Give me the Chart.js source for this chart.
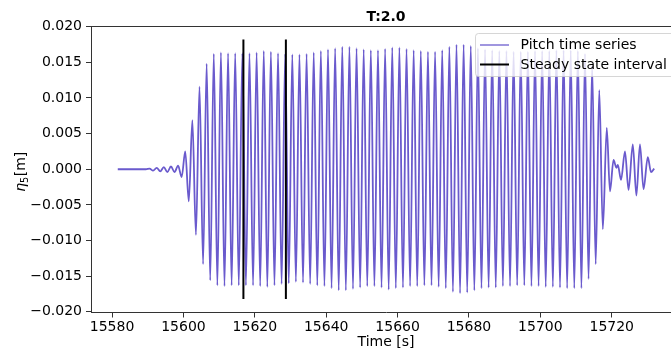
<!DOCTYPE html>
<html>
<head>
<meta charset="utf-8">
<script src="https://cdn.jsdelivr.net/npm/chart.js@4.4.0/dist/chart.umd.min.js"></script>
<style>
html, body { margin: 0; padding: 0; overflow: hidden; background: #fff; }
#wrap { width: 671px; height: 349px; overflow: hidden; }
canvas { display: block; }
</style>
</head>
<body>
<div id="wrap"><canvas id="c" width="700" height="349"></canvas></div>
<script>
// peaks / troughs of the pitch signal
var pitchTime = [
  15581.6, 15589.5, 15590.5, 15591.5, 15592.5, 15593.5, 15594.5, 15595.5, 15596.5, 15597.5, 15598.5, 15599.5,
  15600.5, 15601.5, 15602.5, 15603.5, 15604.5, 15605.5, 15606.5, 15607.5, 15608.5, 15609.5,
  15610.5, 15611.5, 15612.5, 15613.5, 15614.5, 15615.5, 15616.5, 15617.5, 15618.5, 15619.5,
  15620.5, 15621.5, 15622.5, 15623.5, 15624.5, 15625.5, 15626.5, 15627.5, 15628.5, 15629.5,
  15630.5, 15631.5, 15632.5, 15633.5, 15634.5, 15635.5, 15636.5, 15637.5, 15638.5, 15639.5,
  15640.5, 15641.5, 15642.5, 15643.5, 15644.5, 15645.5, 15646.5, 15647.5, 15648.5, 15649.5,
  15650.5, 15651.5, 15652.5, 15653.5, 15654.5, 15655.5, 15656.5, 15657.5, 15658.5, 15659.5,
  15660.5, 15661.5, 15662.5, 15663.5, 15664.5, 15665.5, 15666.5, 15667.5, 15668.5, 15669.5,
  15670.5, 15671.5, 15672.5, 15673.5, 15674.5, 15675.5, 15676.5, 15677.5, 15678.5, 15679.5,
  15680.5, 15681.5, 15682.5, 15683.5, 15684.5, 15685.5, 15686.5, 15687.5, 15688.5, 15689.5,
  15690.5, 15691.5, 15692.5, 15693.5, 15694.5, 15695.5, 15696.5, 15697.5, 15698.5, 15699.5,
  15700.5, 15701.5, 15702.5, 15703.5, 15704.5, 15705.5, 15706.5, 15707.5, 15708.5, 15709.5,
  15710.5, 15711.5, 15712.5, 15713.5, 15714.5, 15715.5, 15716.5, 15717.5,
  15718.6, 15719.5, 15720.5, 15721.3, 15721.7, 15722.6, 15723.7, 15724.7, 15725.9, 15726.9,
  15727.9, 15728.9, 15730.1, 15731.0, 15731.9
];
var pitchValue = [
  0, 0, 0.0001, -0.0002, 0.0002, -0.0003, 0.0003, -0.0004, 0.0004, -0.0004, 0.0005, -0.0011,
  0.0025, -0.0045, 0.0069, -0.0092, 0.0116, -0.0133, 0.0148, -0.0156, 0.0162, -0.0163,
  0.0164, -0.0164, 0.0163, -0.0163, 0.0163, -0.0163, 0.0163, -0.0163, 0.0163, -0.0163,
  0.0164, -0.0164, 0.0166, -0.0165, 0.0165, -0.0163, 0.0163, -0.0161, 0.0162, -0.0160,
  0.0161, -0.0158, 0.0161, -0.0159, 0.0162, -0.0161, 0.0164, -0.0163, 0.0166, -0.0164,
  0.0168, -0.0167, 0.0170, -0.0170, 0.0172, -0.0170, 0.0172, -0.0168, 0.0170, -0.0166,
  0.0168, -0.0164, 0.0167, -0.0164, 0.0167, -0.0166, 0.0169, -0.0169, 0.0171, -0.0167,
  0.0171, -0.0166, 0.0169, -0.0164, 0.0167, -0.0164, 0.0166, -0.0163, 0.0165, -0.0163,
  0.0165, -0.0165, 0.0167, -0.0167, 0.0172, -0.0172, 0.0175, -0.0174, 0.0175, -0.0173,
  0.0173, -0.0170, 0.0170, -0.0167, 0.0168, -0.0166, 0.0167, -0.0166, 0.0166, -0.0164,
  0.0166, -0.0164, 0.0165, -0.0163, 0.0165, -0.0163, 0.0165, -0.0164, 0.0166, -0.0164,
  0.0166, -0.0165, 0.0166, -0.0165, 0.0167, -0.0166, 0.0167, -0.0167, 0.0167, -0.0167,
  0.0166, -0.0167, 0.0162, -0.0154, 0.0146, -0.0133, 0.0111, -0.0084,
  0.0058, -0.0031, 0.0013, 0.0002, 0.0006, -0.0015, 0.0025, -0.0029, 0.0035, -0.0037,
  0.0035, -0.0028, 0.0017, -0.0004, 0.0001
];
var steadyTime = [15616.8, 15628.7];
var steadyRange = [-0.0182, 0.0182];
var xTicks = [15580, 15600, 15620, 15640, 15660, 15680, 15700, 15720];
var yTicks = [-0.020, -0.015, -0.010, -0.005, 0.000, 0.005, 0.010, 0.015, 0.020];
var xRange = [15574.1, 15739.4];
var yRange = [-0.0201, 0.0201];
var legendLabels = ['Pitch time series', 'Steady state interval'];

var FONT = 'DejaVu Sans';
var FS = 14;
var seriesColor = 'rgb(106,90,205)';

var series = pitchTime.map(function (t, i) { return { x: t, y: pitchValue[i] }; });

function steadyLine(t) {
  return [{ x: t, y: steadyRange[0] }, { x: t, y: steadyRange[1] }];
}

var decor = {
  id: 'decor',
  afterDraw: function (chart) {
    var ctx = chart.ctx, a = chart.chartArea;
    ctx.save();
    // top spine
    ctx.strokeStyle = '#333';
    ctx.lineWidth = 1;
    ctx.beginPath();
    ctx.moveTo(a.left, a.top + 0.5);
    ctx.lineTo(a.right, a.top + 0.5);
    ctx.stroke();

    // title
    ctx.fillStyle = '#000';
    ctx.font = 'bold ' + FS + 'px ' + FONT;
    ctx.textAlign = 'center';
    ctx.textBaseline = 'alphabetic';
    ctx.fillText('T:2.0', (a.left + a.right) / 2, 21);

    // y axis label  η5[m]
    ctx.translate(20.5, 172);
    ctx.rotate(-Math.PI / 2);
    ctx.textAlign = 'left';
    ctx.textBaseline = 'alphabetic';
    var fEta = 'italic ' + FS + 'px ' + FONT;
    var fSub = (FS * 0.7) + 'px ' + FONT;
    var fReg = FS + 'px ' + FONT;
    ctx.font = fEta; var w1 = ctx.measureText('η').width;
    ctx.font = fSub; var w2 = ctx.measureText('5').width;
    ctx.font = fReg; var w3 = ctx.measureText('[m]').width;
    var x0 = -(w1 + w2 + w3) / 2, base = 4.5;
    ctx.font = fEta; ctx.fillText('η', x0, base);
    ctx.font = fSub; ctx.fillText('5', x0 + w1, base + 2.5);
    ctx.font = fReg; ctx.fillText('[m]', x0 + w1 + w2 + 0.5, base);
    ctx.restore();

    // legend
    ctx.save();
    var bx = 475.5, by = 33.5, bw = 200, bh = 43, r = 3;
    ctx.beginPath();
    ctx.moveTo(bx + r, by);
    ctx.lineTo(bx + bw - r, by);
    ctx.arcTo(bx + bw, by, bx + bw, by + r, r);
    ctx.lineTo(bx + bw, by + bh - r);
    ctx.arcTo(bx + bw, by + bh, bx + bw - r, by + bh, r);
    ctx.lineTo(bx + r, by + bh);
    ctx.arcTo(bx, by + bh, bx, by + bh - r, r);
    ctx.lineTo(bx, by + r);
    ctx.arcTo(bx, by, bx + r, by, r);
    ctx.closePath();
    ctx.fillStyle = 'rgba(255,255,255,0.8)';
    ctx.fill();
    ctx.strokeStyle = 'rgba(204,204,204,0.8)';
    ctx.lineWidth = 1;
    ctx.stroke();

    var rows = [45, 64.5];
    var colors = ['rgba(106,90,205,0.8)', '#000'];
    var widths = [1.6, 2];
    ctx.font = FS + 'px ' + FONT;
    ctx.textAlign = 'left';
    ctx.textBaseline = 'middle';
    for (var i = 0; i < 2; i++) {
      ctx.strokeStyle = colors[i];
      ctx.lineWidth = widths[i];
      ctx.beginPath();
      ctx.moveTo(480, rows[i]);
      ctx.lineTo(509, rows[i]);
      ctx.stroke();
      ctx.fillStyle = '#000';
      ctx.fillText(legendLabels[i], 520.5, rows[i] + 0.5);
    }
    ctx.restore();
  }
};

new Chart(document.getElementById('c'), {
  type: 'line',
  data: {
    datasets: [
      { data: steadyLine(steadyTime[0]), borderColor: '#000', borderWidth: 2, pointRadius: 0, tension: 0, order: 1 },
      { data: steadyLine(steadyTime[1]), borderColor: '#000', borderWidth: 2, pointRadius: 0, tension: 0, order: 1 },
      { data: series, borderColor: seriesColor, borderWidth: 1.8, pointRadius: 0,
        cubicInterpolationMode: 'monotone', fill: false, order: 2 }
    ]
  },
  options: {
    responsive: false,
    animation: false,
    events: [],
    layout: { padding: { left: 0, right: 19, top: 26, bottom: 0 } },
    plugins: { legend: { display: false }, tooltip: { enabled: false }, title: { display: false } },
    scales: {
      x: {
        type: 'linear',
        min: xRange[0], max: xRange[1],
        afterBuildTicks: function (s) { s.ticks = xTicks.map(function (v) { return { value: v }; }); },
        afterFit: function (s) { s.height = 36.5; },
        grid: { display: true, drawOnChartArea: false, drawTicks: true, tickLength: 5, color: '#333' },
        border: { display: true, color: '#333', width: 1 },
        ticks: { autoSkip: false, maxRotation: 0, padding: 1.5, color: '#000',
                 font: { family: FONT, size: FS },
                 callback: function (v) { return String(v); } },
        title: { display: true, text: 'Time [s]', color: '#000', font: { family: FONT, size: FS },
                 padding: { top: 0, bottom: -1.5 } }
      },
      y: {
        type: 'linear',
        min: yRange[0], max: yRange[1],
        afterBuildTicks: function (s) { s.ticks = yTicks.map(function (v) { return { value: v }; }); },
        afterFit: function (s) { s.width = 91; },
        grid: { display: true, drawOnChartArea: false, drawTicks: true, tickLength: 5, color: '#333' },
        border: { display: true, color: '#333', width: 1 },
        ticks: { autoSkip: false, padding: 4, color: '#000',
                 font: { family: FONT, size: FS },
                 callback: function (v) {
                   if (Math.abs(v) < 1e-9) return '0.000';
                   return (v < 0 ? '\u2212' : '') + Math.abs(v).toFixed(3);
                 } }
      }
    }
  },
  plugins: [decor]
});
</script>
</body>
</html>
